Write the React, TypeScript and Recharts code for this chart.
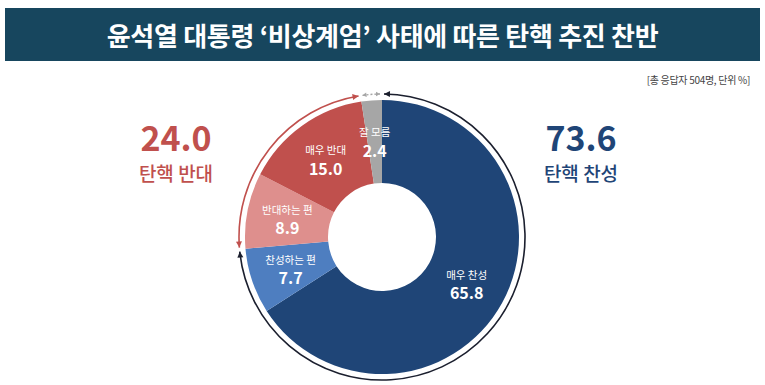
import { PieChart, Pie, Cell } from 'recharts';

const categories = ['매우 찬성', '찬성하는 편', '반대하는 편', '매우 반대', '잘 모름'];
const values = [65.8, 7.7, 8.9, 15.0, 2.4];
const sliceColors = ['#1f4577', '#4e7ec0', '#de8f8d', '#c0504d', '#a6a6a6'];

const groups = ['탄핵 찬성', '탄핵 반대', '잘 모름'];
const groupValues = [73.6, 24.0, 2.4];
const groupColors = ['#1b1f2e', '#c0504d', '#a6a6a6'];

const title = '윤석열 대통령 ‘비상계엄’ 사태에 따른 탄핵 추진 찬반';
const note = '[총 응답자 504명, 단위 %]';

const sliceData = categories.map((name, i) => ({ name, value: values[i] }));
const groupData = groups.map((name, i) => ({ name, value: groupValues[i] }));

const FONT = '"Noto Sans CJK KR", "Noto Sans", sans-serif';
const RAD = Math.PI / 180;

const pt = (cx: number, cy: number, r: number, a: number) => ({
  x: cx + r * Math.cos(-a * RAD),
  y: cy + r * Math.sin(-a * RAD),
});

// arrow head with tip at p, pointing along dir
const head = (p: { x: number; y: number }, dx: number, dy: number, len: number, w: number) => {
  const bx = p.x - dx * len;
  const by = p.y - dy * len;
  const px = -dy;
  const py = dx;
  return `${p.x},${p.y} ${bx + px * w},${by + py * w} ${bx - px * w},${by - py * w}`;
};

function ArcLabel(props: any) {
  const { cx, cy, innerRadius, outerRadius, startAngle, endAngle, index } = props;
  const r = (innerRadius + outerRadius) / 2;
  const a0 = startAngle - 0.8;
  const a1 = endAngle + 0.8;
  const p0 = pt(cx, cy, r, a0);
  const p1 = pt(cx, cy, r, a1);
  const large = Math.abs(a0 - a1) > 180 ? 1 : 0;
  const color = groupColors[index];
  const gray = index === 2;
  const len = gray ? 4 : 6;
  const w = gray ? 2.3 : 3;
  return (
    <g>
      <path
        d={`M${p0.x},${p0.y} A${r},${r} 0 ${large} 1 ${p1.x},${p1.y}`}
        fill="none"
        stroke={color}
        strokeWidth={gray ? 1.4 : 1.6}
        strokeDasharray={gray ? '2 2' : undefined}
      />
      <polygon
        points={head(p0, -Math.sin(a0 * RAD), -Math.cos(a0 * RAD), len, w)}
        fill={color}
      />
      <polygon
        points={head(p1, Math.sin(a1 * RAD), Math.cos(a1 * RAD), len, w)}
        fill={color}
      />
    </g>
  );
}

function SliceLabel(props: any) {
  const { cx, cy, innerRadius, outerRadius, midAngle, index } = props;
  const p = pt(cx, cy, (innerRadius + outerRadius) / 2 + 1, midAngle);
  return (
    <g fontFamily={FONT} fill="#fff" textAnchor="middle">
      <text x={p.x} y={p.y - 9} fontSize={10.5} dominantBaseline="central">
        {categories[index]}
      </text>
      <text x={p.x} y={p.y + 9} fontSize={16} fontWeight={700} dominantBaseline="central">
        {values[index].toFixed(1)}
      </text>
    </g>
  );
}

function BigNumber({ x, value, label, color }: { x: number; value: number; label: string; color: string }) {
  return (
    <>
      <div
        style={{
          position: 'absolute', left: x - 90, top: 120, width: 180, textAlign: 'center',
          fontSize: 34, lineHeight: '34px', fontWeight: 700, color,
        }}
      >
        {value.toFixed(1)}
      </div>
      <div
        style={{
          position: 'absolute', left: x - 90, top: 163, width: 180, textAlign: 'center',
          fontSize: 19, lineHeight: '19px', fontWeight: 500, color,
        }}
      >
        {label}
      </div>
    </>
  );
}

export default function App() {
  return (
    <div
      style={{
        position: 'absolute', left: 0, top: 0, width: 765, height: 385,
        background: '#fff', fontFamily: FONT, overflow: 'hidden',
      }}
    >
      <div
        style={{
          position: 'absolute', left: 5, top: 8, width: 755, height: 53,
          background: '#17465e', color: '#fff', textAlign: 'center',
          fontSize: 26, lineHeight: '53px', fontWeight: 700, letterSpacing: -0.3,
        }}
      >
        {title}
      </div>
      <div
        style={{
          position: 'absolute', right: 15, top: 72, fontSize: 10, color: '#444',
          letterSpacing: -0.3,
        }}
      >
        {note}
      </div>

      <BigNumber x={176} value={groupValues[1]} label={groups[1]} color="#c0504d" />
      <BigNumber x={581} value={groupValues[0]} label={groups[0]} color="#1f4577" />

      <div style={{ position: 'absolute', left: 0, top: 0 }}>
        <PieChart width={765} height={385} margin={{ top: 0, right: 0, bottom: 0, left: 0 }}>
          <Pie
            data={groupData}
            dataKey="value"
            cx={382}
            cy={237}
            innerRadius={142}
            outerRadius={144}
            startAngle={90}
            endAngle={-270}
            stroke="none"
            label={ArcLabel}
            labelLine={false}
            isAnimationActive={false}
          >
            {groupData.map((d, i) => (
              <Cell key={d.name} fill="none" />
            ))}
          </Pie>
          <Pie
            data={sliceData}
            dataKey="value"
            cx={382}
            cy={237}
            innerRadius={54}
            outerRadius={137}
            startAngle={90}
            endAngle={-270}
            stroke="none"
            label={SliceLabel}
            labelLine={false}
            isAnimationActive={false}
          >
            {sliceData.map((d, i) => (
              <Cell key={d.name} fill={sliceColors[i]} />
            ))}
          </Pie>
        </PieChart>
      </div>
    </div>
  );
}
